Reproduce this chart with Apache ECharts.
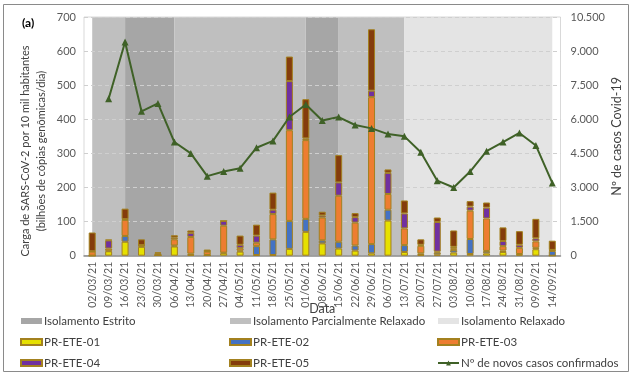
<!DOCTYPE html>
<html>
<head>
<meta charset="utf-8">
<script src="https://cdn.jsdelivr.net/npm/echarts@6/dist/echarts.min.js"></script>
<style>
  html, body { margin: 0; padding: 0; background: #fff; }
  #chart { width: 634px; height: 376px; }
</style>
</head>
<body>
<div id="chart"></div>
<script>
// semanas de coleta
const dates = ['02/03/21', '09/03/21', '16/03/21', '23/03/21', '30/03/21', '06/04/21', '13/04/21',
  '20/04/21', '27/04/21', '04/05/21', '11/05/21', '18/05/21', '25/05/21', '01/06/21', '08/06/21',
  '15/06/21', '22/06/21', '29/06/21', '06/07/21', '13/07/21', '20/07/21', '27/07/21', '03/08/21',
  '10/08/21', '17/08/21', '24/08/21', '31/08/21', '09/09/21', '14/09/21'];

// carga viral por ETE
const ete01 = [0, 13, 41, 26, 1, 27, 2, 1, 7, 12, 2, 2, 20, 70, 36, 21, 15, 7, 103, 11, 2, 3, 9, 5, 7, 11, 3, 19, 0];
const ete02 = [0, 2, 17, 3, 1, 3, 4, 1, 2, 3, 26, 46, 82, 38, 9, 20, 15, 27, 32, 20, 5, 6, 8, 44, 7, 4, 2, 4, 14];
const ete03 = [12, 6, 47, 2, 1, 18, 49, 10, 79, 7, 10, 74, 266, 231, 67, 135, 67, 431, 46, 49, 22, 3, 5, 83, 95, 13, 18, 19, 2];
const ete04 = [1, 24, 2, 0, 4, 5, 12, 1, 14, 10, 21, 13, 144, 5, 6, 39, 16, 19, 62, 44, 3, 87, 4, 12, 32, 15, 9, 9, 1];
const ete05 = [55, 2, 31, 17, 3, 7, 7, 5, 0, 27, 32, 50, 72, 115, 11, 80, 12, 180, 10, 38, 16, 13, 48, 16, 15, 40, 40, 57, 27];

// novos casos confirmados
const casos = [null, 6900, 9400, 6350, 6700, 5000, 4500, 3500, 3700, 3850, 4750, 5050, 6100, 6650, 5950,
  6100, 5750, 5600, 5350, 5250, 4550, 3300, 3000, 3700, 4600, 5000, 5400, 4850, 3200];

// periodos de isolamento
const estrito = [['16/03/21', '06/04/21'], ['01/06/21', '15/06/21']];
const parcial = [['02/03/21', '16/03/21'], ['06/04/21', '01/06/21'], ['15/06/21', '13/07/21']];
const relaxado = [['13/07/21', '14/09/21']];

const FONT = 'Lato';
const borda = '#a3811f';

const chart = echarts.init(document.getElementById('chart'));

const periodo = (name, color, faixas) => ({
  name: name,
  type: 'line',
  data: [],
  color: color,
  markArea: {
    silent: true,
    z: -1,
    itemStyle: { color: color },
    data: faixas.map(f => [{ xAxis: f[0] }, { xAxis: f[1] }])
  }
});

const barra = (name, color, data) => ({
  name: name,
  type: 'bar',
  stack: 'carga',
  barWidth: 7,
  data: data,
  itemStyle: { color: color, borderColor: borda, borderWidth: 1 },
  z: 2
});

const milhar = v => String(v).replace(/\B(?=(\d{3})+(?!\d))/g, '.');

const legenda = (left, nomes) => ({
  orient: 'vertical',
  left: left,
  top: 315,
  padding: 0,
  itemWidth: 21,
  itemHeight: 6,
  itemGap: 9,
  textStyle: { fontFamily: FONT, fontSize: 11.5, color: '#404040', padding: [0, 0, 0, -3] },
  data: nomes.map(n => n.startsWith('Nº') ? n : { name: n, icon: 'rect' })
});

const option = {
  animation: false,
  textStyle: { fontFamily: FONT },
  title: {
    text: '(a)',
    left: 17,
    top: 12,
    textStyle: { fontFamily: FONT, fontSize: 12, fontWeight: 'bold', color: '#000' }
  },
  graphic: [{
    type: 'rect',
    shape: { x: 3.5, y: 4.5, width: 625, height: 367 },
    style: { fill: null, stroke: '#8a8a8a', lineWidth: 1 },
    silent: true
  }, {
    // titulo do eixo esquerdo (um pouco abaixo do centro, como no original)
    type: 'text',
    x: 33,
    y: 151,
    rotation: Math.PI / 2,
    silent: true,
    style: {
      text: 'Carga de SARS-CoV-2 por 10 mil habitantes\n(bilhões de cópias genômicas/dia)',
      align: 'center',
      verticalAlign: 'middle',
      lineHeight: 16,
      fontFamily: FONT,
      fontSize: 11,
      fill: '#404040'
    }
  }],
  grid: {
    left: 84, top: 17, width: 476.5, height: 238.7,
    show: true, borderColor: '#d9d9d9', borderWidth: 1, backgroundColor: 'transparent'
  },
  legend: [
    legenda(20, ['Isolamento Estrito', 'PR-ETE-01', 'PR-ETE-04']),
    legenda(229, ['Isolamento Parcialmente Relaxado', 'PR-ETE-02', 'PR-ETE-05']),
    legenda(437, ['Isolamento Relaxado', 'PR-ETE-03', 'Nº de novos casos confirmados'])
  ],
  xAxis: {
    type: 'category',
    data: dates,
    z: 1.5,
    name: 'Data',
    nameLocation: 'middle',
    nameGap: 47,
    nameMoveOverlap: false,
    nameTextStyle: { fontFamily: FONT, fontSize: 12.5, color: '#404040' },
    axisLine: { lineStyle: { color: '#8c8c8c', width: 1.5 } },
    axisTick: { alignWithLabel: true, length: 4, lineStyle: { color: '#8c8c8c' } },
    axisLabel: { rotate: 90, interval: 0, margin: 6, fontFamily: FONT, fontSize: 10.5, color: '#595959' }
  },
  yAxis: [{
    type: 'value',
    min: 0, max: 700, interval: 100,
    z: 1.5,
    axisLine: { show: false },
    axisTick: { show: false },
    axisLabel: { fontFamily: FONT, fontSize: 11, color: '#595959', margin: 8 },
    splitLine: { lineStyle: { color: '#cfcfcf', type: [4, 3] } }
  }, {
    type: 'value',
    min: 0, max: 10500, interval: 1500,
    name: 'Nº de casos Covid-19',
    nameLocation: 'middle',
    nameRotate: 90,
    nameGap: 50,
    nameMoveOverlap: false,
    nameTextStyle: { fontFamily: FONT, fontSize: 12.5, color: '#404040' },
    axisLine: { show: false },
    axisTick: { show: false },
    axisLabel: { fontFamily: FONT, fontSize: 11, color: '#595959', margin: 10, formatter: milhar },
    splitLine: { show: false }
  }],
  series: [
    periodo('Isolamento Estrito', '#a6a6a6', estrito),
    periodo('Isolamento Parcialmente Relaxado', '#bfbfbf', parcial),
    periodo('Isolamento Relaxado', '#e4e4e4', relaxado),
    barra('PR-ETE-01', '#e6e000', ete01),
    barra('PR-ETE-02', '#4472c4', ete02),
    barra('PR-ETE-03', '#ed7d31', ete03),
    barra('PR-ETE-04', '#7030a0', ete04),
    barra('PR-ETE-05', '#843c0c', ete05),
    {
      name: 'Nº de novos casos confirmados',
      type: 'line',
      yAxisIndex: 1,
      data: casos,
      color: '#3f6127',
      symbol: 'triangle',
      symbolSize: 7,
      lineStyle: { width: 2 },
      z: 3
    }
  ]
};

chart.setOption(option);
</script>
</body>
</html>
